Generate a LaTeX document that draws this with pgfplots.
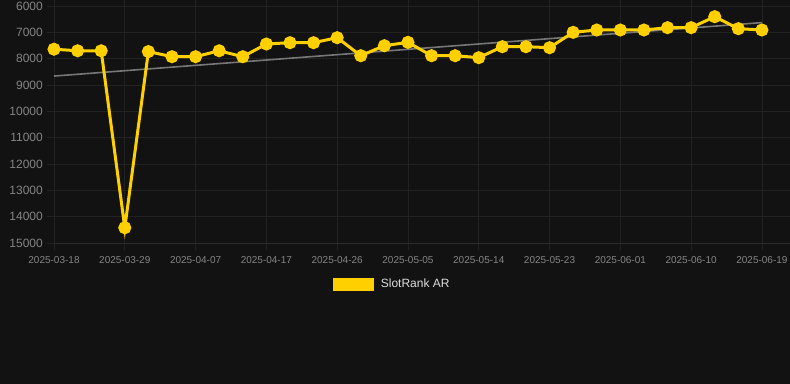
\documentclass[border=0pt]{standalone}
\usepackage{pgfplots}
\pgfplotsset{compat=1.18}
\usepackage{fontspec}
\setmainfont{Liberation Sans}
\definecolor{bg}{HTML}{121212}
\definecolor{gridc}{HTML}{222222}
\definecolor{axisc}{HTML}{2C2C2C}
\definecolor{tickc}{HTML}{858585}
\definecolor{gold}{HTML}{FFD000}
\definecolor{trend}{HTML}{777777}
\definecolor{legtext}{HTML}{DDDDDD}
\begin{document}
\begin{tikzpicture}
\path[use as bounding box, fill=bg] (-54bp,-141bp) rectangle (736bp,243bp);
\begin{axis}[
  at={(0,0)}, anchor=south west,
  scale only axis,
  width=736bp, height=237bp,
  xmin=0, xmax=31.19,
  ymin=6000, ymax=15000,
  y dir=reverse,
  scaled y ticks=false,
  axis line style={draw=none},
  ytick={6000,7000,...,15000},
  xtick={0,3,...,30},
  xticklabels={2025-03-18,2025-03-29,2025-04-07,2025-04-17,2025-04-26,2025-05-05,2025-05-14,2025-05-23,2025-06-01,2025-06-10,2025-06-19},
  grid=major,
  major grid style={draw=gridc, line width=0.8bp},
  tick align=outside,
  major tick length=7bp,
  tick style={draw=gridc, line width=0.8bp},
  /pgf/number format/assume math mode=true,
  /pgf/number format/set thousands separator={},
  yticklabel style={font=\fontsize{12bp}{14bp}\selectfont, text=tickc, inner sep=0pt, xshift=-4bp, /pgf/number format/fixed},
  xticklabel style={font=\fontsize{10bp}{12bp}\selectfont, text=tickc, inner sep=0pt, yshift=-6bp},
]
\draw[axisc, line width=0.8bp] (axis cs:0,15000) -- (axis cs:31.19,15000);
\addplot[trend, line width=1.6bp] coordinates {(0,8660) (30,6630)};
\addplot[gold, line width=3bp, mark=*, mark size=5bp, mark options={solid, fill=gold, draw=none}]
coordinates {
(0,7640) (1,7700) (2,7700) (3,14420) (4,7730) (5,7925) (6,7925) (7,7700)
(8,7925) (9,7443) (10,7393) (11,7393) (12,7203) (13,7887) (14,7507)
(15,7380) (16,7887) (17,7887) (18,7962) (19,7545) (20,7545) (21,7583)
(22,7000) (23,6911) (24,6911) (25,6911) (26,6823) (27,6823) (28,6405)
(29,6861) (30,6911)
};
\end{axis}
\begin{axis}[
  at={(0,0)}, anchor=south west,
  scale only axis, hide axis,
  width=736bp, height=237bp,
  xmin=0, xmax=1, ymin=0, ymax=1,
  legend style={draw=none, fill=none, at={(0.4593,-0.173)}, anchor=center,
    font=\fontsize{12bp}{14bp}\selectfont, text=legtext},
  legend image code/.code={\fill[gold] (0bp,-6bp) rectangle (40bp,6bp); \path (46bp,0);},
]
\addlegendimage{gold}
\addlegendentry{SlotRank AR}
\end{axis}
\end{tikzpicture}
\end{document}
